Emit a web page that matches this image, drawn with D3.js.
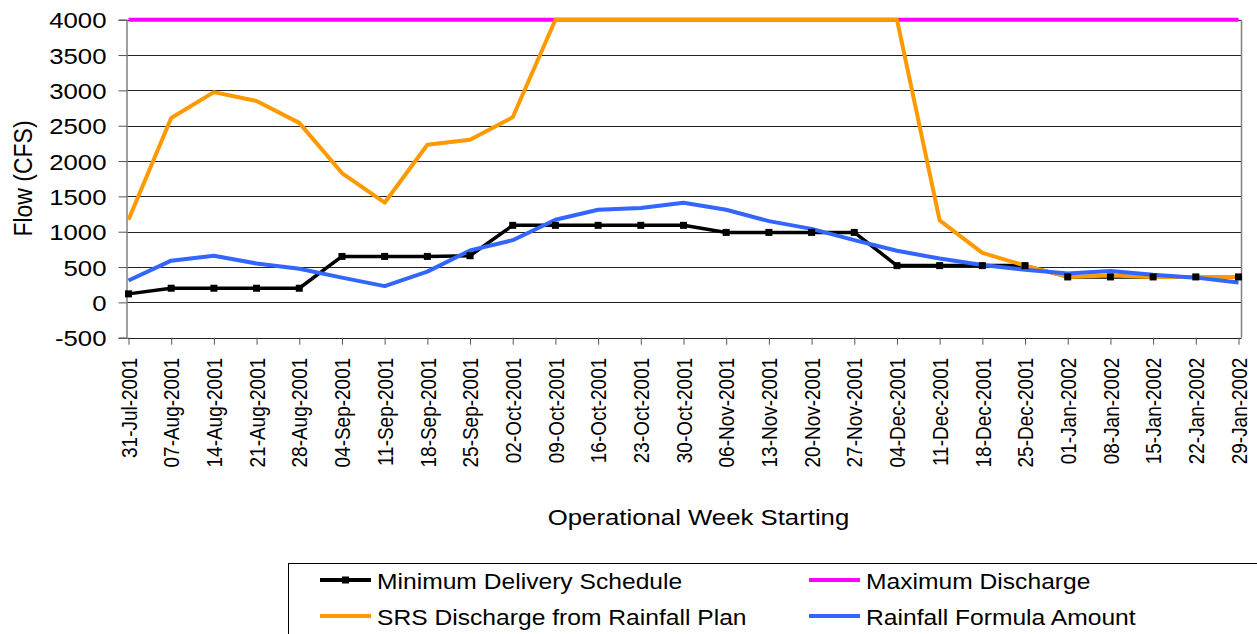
<!DOCTYPE html>
<html>
<head>
<meta charset="utf-8">
<script src="https://cdn.jsdelivr.net/npm/d3@7/dist/d3.min.js"></script>
<style>
  body { margin: 0; background: #fff; }
  svg { display: block; font-family: "Liberation Sans", Arial, sans-serif; }
</style>
</head>
<body>
<svg id="chart" width="1257" height="634"></svg>
<script>
// ---- Data ------------------------------------------------------------------
const weeks = [
  "31-Jul-2001", "07-Aug-2001", "14-Aug-2001", "21-Aug-2001", "28-Aug-2001",
  "04-Sep-2001", "11-Sep-2001", "18-Sep-2001", "25-Sep-2001", "02-Oct-2001",
  "09-Oct-2001", "16-Oct-2001", "23-Oct-2001", "30-Oct-2001", "06-Nov-2001",
  "13-Nov-2001", "20-Nov-2001", "27-Nov-2001", "04-Dec-2001", "11-Dec-2001",
  "18-Dec-2001", "25-Dec-2001", "01-Jan-2002", "08-Jan-2002", "15-Jan-2002",
  "22-Jan-2002", "29-Jan-2002"
];
const minDelivery = [
  120, 200, 200, 200, 200, 650, 650, 650, 660, 1090,
  1090, 1090, 1090, 1090, 990, 990, 990, 990, 520, 520,
  520, 520, 360, 360, 360, 360, 360
];
const maxDischarge = [
  4000, 4000, 4000, 4000, 4000, 4000, 4000, 4000, 4000, 4000,
  4000, 4000, 4000, 4000, 4000, 4000, 4000, 4000, 4000, 4000,
  4000, 4000, 4000, 4000, 4000, 4000, 4000
];
const srsDischarge = [
  1170, 2610, 2975, 2850, 2540, 1830, 1410, 2230, 2300, 2620,
  4000, 4000, 4000, 4000, 4000, 4000, 4000, 4000, 4000, 1160,
  700, 520, 360, 380, 360, 360, 360
];
const rainfallFormula = [
  310, 590, 660, 550, 475, 350, 230, 435, 735, 880,
  1170, 1310, 1335, 1410, 1310, 1150, 1040, 880, 730, 620,
  530, 460, 410, 445, 390, 350, 280
];
const yTicks = [-500, 0, 500, 1000, 1500, 2000, 2500, 3000, 3500, 4000];

const seriesNames  = ["Minimum Delivery Schedule", "Maximum Discharge", "SRS Discharge from Rainfall Plan", "Rainfall Formula Amount"];
const seriesValues = [minDelivery, maxDischarge, srsDischarge, rainfallFormula];
const seriesColors = ["#000000", "#FF00FF", "#FF9900", "#3366FF"];

// ---- Layout ----------------------------------------------------------------
const P = { left: 126.5, right: 1241.5, top: 19.7, bottom: 337.7 };
const SX = 1.12;   // reference text is slightly wide

const svg = d3.select("#chart");

const x = d3.scalePoint().domain(weeks).range([128.5, 1238.5]);
const y = d3.scaleLinear().domain([-500, 4000]).range([P.bottom, P.top]);

// ---- Gridlines -------------------------------------------------------------
svg.append("g")
  .selectAll("line")
  .data(yTicks)
  .join("line")
  .attr("x1", P.left).attr("x2", P.right)
  .attr("y1", d => Math.round(y(d)) + 0.5).attr("y2", d => Math.round(y(d)) + 0.5)
  .attr("stroke", "#222").attr("stroke-width", 1);

// right border of plot area
svg.append("line")
  .attr("x1", P.right).attr("x2", P.right)
  .attr("y1", P.top).attr("y2", P.bottom)
  .attr("stroke", "#808080").attr("stroke-width", 1.5);

// ---- Y axis ----------------------------------------------------------------
svg.append("g")
  .attr("transform", `translate(${P.left},0)`)
  .call(d3.axisLeft(y).tickValues(yTicks).tickSize(8).tickFormat(d => String(d)))
  .call(g => g.select(".domain").attr("stroke", "#808080").attr("stroke-width", 1.5))
  .call(g => g.selectAll(".tick line").attr("stroke", "#555"))
  .call(g => g.selectAll(".tick text")
    .attr("x", 0).attr("dy", "0.36em")
    .attr("transform", `translate(-20,0) scale(${SX},1)`)
    .attr("fill", "#000")
    .style("font-size", "23px")
    .style("font-family", "'Liberation Sans', Arial, sans-serif"));

// ---- X axis ----------------------------------------------------------------
svg.append("g")
  .attr("transform", `translate(0,${P.bottom})`)
  .call(d3.axisBottom(x).tickSize(7).tickSizeOuter(0))
  .call(g => g.select(".domain").remove())
  .call(g => g.selectAll(".tick line").attr("stroke", "#555"))
  .call(g => g.selectAll(".tick text")
    .attr("x", 0).attr("y", 0).attr("dy", "0.36em")
    .attr("text-anchor", "end")
    .attr("transform", `translate(0,20) scale(${SX},1) rotate(-90)`)
    .attr("fill", "#000")
    .style("font-size", "19px")
    .style("font-family", "'Liberation Sans', Arial, sans-serif"));

// ---- Axis titles -----------------------------------------------------------
svg.append("text")
  .attr("transform", `translate(32,178.5) scale(${SX},1) rotate(-90)`)
  .attr("text-anchor", "middle")
  .style("font-size", "23px")
  .text("Flow (CFS)");

svg.append("text")
  .attr("transform", `translate(698.5,525) scale(${SX},1)`)
  .attr("text-anchor", "middle")
  .style("font-size", "23px")
  .text("Operational Week Starting");

// ---- Series lines ----------------------------------------------------------
const line = d3.line()
  .x((d, i) => x(weeks[i]))
  .y(d => y(d));

svg.append("g")
  .selectAll("path")
  .data(seriesValues)
  .join("path")
  .attr("d", line)
  .attr("fill", "none")
  .attr("stroke", (d, i) => seriesColors[i])
  .attr("stroke-width", (d, i) => i === 0 ? 3.5 : 4)
  .attr("stroke-linejoin", "round");

// square markers on the minimum delivery schedule
svg.append("g")
  .selectAll("rect")
  .data(minDelivery)
  .join("rect")
  .attr("x", (d, i) => x(weeks[i]) - 3.5)
  .attr("y", d => y(d) - 3.5)
  .attr("width", 7).attr("height", 7)
  .attr("fill", "#000");

// ---- Legend ----------------------------------------------------------------
const legend = svg.append("g");
legend.append("rect")
  .attr("x", 288.5).attr("y", 563.5)
  .attr("width", 1000).attr("height", 100)
  .attr("fill", "#fff").attr("stroke", "#000").attr("stroke-width", 1);

const legendX = [320, 809];
const legendY = [580, 616];

const items = legend.selectAll("g.item")
  .data(seriesNames)
  .join("g")
  .attr("class", "item")
  .attr("transform", (d, i) => `translate(${legendX[i % 2]},${legendY[Math.floor(i / 2)]})`);

items.append("line")
  .attr("x1", 0).attr("x2", 51)
  .attr("stroke", (d, i) => seriesColors[i])
  .attr("stroke-width", 4);

items.filter((d, i) => i === 0).append("rect")
  .attr("x", 22).attr("y", -3.5).attr("width", 7).attr("height", 7)
  .attr("fill", "#000");

items.append("text")
  .attr("transform", `translate(57,9) scale(${SX},1)`)
  .style("font-size", "22px")
  .attr("fill", "#000")
  .text(d => d);
</script>
</body>
</html>
